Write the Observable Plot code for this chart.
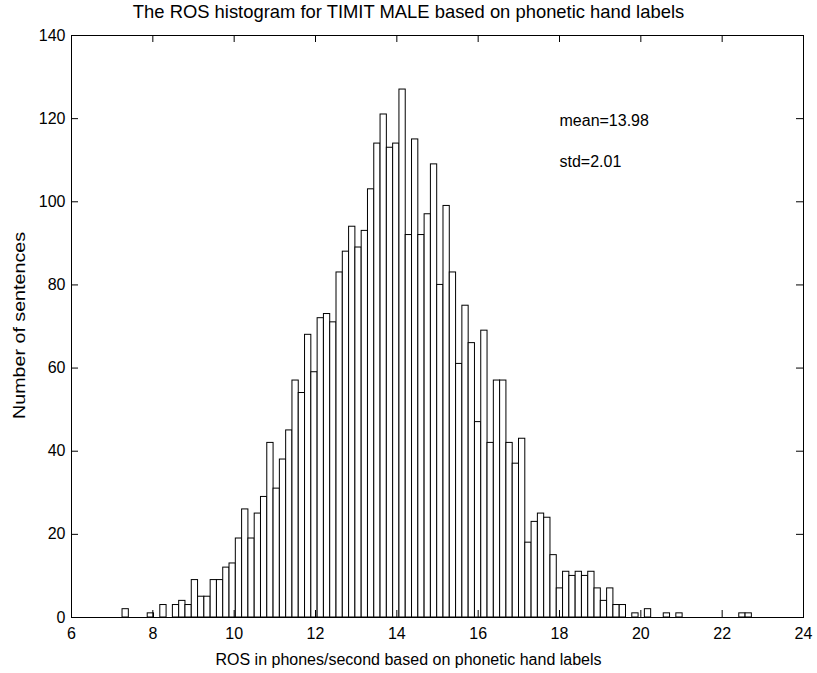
<!DOCTYPE html>
<html>
<head>
<meta charset="utf-8">
<script src="https://cdn.jsdelivr.net/npm/d3@7"></script>
<script src="https://cdn.jsdelivr.net/npm/@observablehq/plot@0.6"></script>
<style>
  html, body { margin: 0; padding: 0; background: #ffffff; }
  #chart svg { display: block; }
</style>
</head>
<body>
<div id="chart"></div>
<script>
// Histogram counts (100 bins, MATLAB hist)
const counts = [
  2, 0, 0, 0, 1, 0, 3, 0, 3, 4,
  3, 9, 5, 5, 9, 9, 12, 13, 19, 26,
  19, 25, 29, 42, 31, 38, 45, 57, 54, 68,
  59, 72, 73, 71, 83, 88, 94, 89, 93, 103,
  114, 121, 113, 114, 127, 92, 115, 92, 97, 109,
  80, 99, 83, 61, 75, 66, 47, 69, 42, 57,
  57, 42, 37, 43, 18, 23, 25, 24, 15, 7,
  11, 10, 11, 10, 11, 7, 4, 7, 3, 3,
  0, 1, 0, 2, 0, 0, 1, 0, 1, 0,
  0, 0, 0, 0, 0, 0, 0, 0, 1, 1
];
// data range covered by the bins (min and max ROS)
const rosMin = 7.255;
const rosMax = 22.73;

const xTicks = [6, 8, 10, 12, 14, 16, 18, 20, 22, 24];
const yTicks = [0, 20, 40, 60, 80, 100, 120, 140];

const titleText = "The ROS histogram for TIMIT MALE based on phonetic hand labels";
const xLabelText = "ROS in phones/second based on phonetic hand labels";
const yLabelText = "Number of sentences";

const annotations = [
  { x: 18, y: 120, text: "mean=13.98" },
  { x: 18, y: 110, text: "std=2.01" }
];

// build bins (equal-width bins between min and max, as hist does)
const nBins = counts.length;
const binW = (rosMax - rosMin) / nBins;
const bins = counts.map((c, i) => ({
  x1: rosMin + i * binW,
  x2: rosMin + (i + 1) * binW,
  base: 0,
  count: c
}));

const W = 817, H = 673;
const mL = 71, mT = 35, mR = 14, mB = 56;
const fw = W - mL - mR, fh = H - mT - mB;
const tick = 7;
const font = "'Liberation Sans', Arial, Helvetica, sans-serif";

const chart = Plot.plot({
  width: W,
  height: H,
  marginLeft: mL,
  marginTop: mT,
  marginRight: mR,
  marginBottom: mB,
  style: { fontFamily: font, fontSize: "16px", background: "#ffffff", color: "#000000", overflow: "visible" },
  x: { domain: [6, 24] },
  y: { domain: [0, 140] },
  marks: [
    Plot.rect(bins, { x1: "x1", x2: "x2", y1: "base", y2: "count", fill: "#ffffff", stroke: "#000000", strokeWidth: 1 }),
    Plot.frame({ stroke: "#000000", strokeWidth: 1 }),
    // inward ticks on all four sides
    Plot.tickX(xTicks, { x: d => d, insetTop: fh - tick, stroke: "#000000" }),
    Plot.tickX(xTicks, { x: d => d, insetBottom: fh - tick, stroke: "#000000" }),
    Plot.tickY(yTicks, { y: d => d, insetRight: fw - tick, stroke: "#000000" }),
    Plot.tickY(yTicks, { y: d => d, insetLeft: fw - tick, stroke: "#000000" }),
    Plot.axisX(xTicks, { tickSize: 0, tickPadding: 10, label: null, fontSize: 16 }),
    Plot.axisY(yTicks, { tickSize: 0, tickPadding: 6, label: null, fontSize: 16 }),
    Plot.text(annotations, { x: "x", y: "y", text: "text", textAnchor: "start", lineAnchor: "middle", dy: 2, fontSize: 16, fill: "#000000" }),
    Plot.text([titleText], { text: d => d, frameAnchor: "top", textAnchor: "middle", lineAnchor: "middle", dx: -29, dy: -23, fontSize: 18.4, fill: "#000000" }),
    Plot.text([xLabelText], { text: d => d, frameAnchor: "bottom", textAnchor: "middle", lineAnchor: "middle", dx: -29, dy: 42, fontSize: 16, fill: "#000000" }),
    Plot.text([yLabelText], { text: d => d, frameAnchor: "left", textAnchor: "middle", lineAnchor: "middle", rotate: -90, dx: -52, dy: -1, fontSize: 16, fill: "#000000" })
  ]
});

// the reference's vertical label is slightly stretched along its length
d3.select(chart).selectAll("text")
  .filter(function () { return this.textContent === yLabelText; })
  .attr("textLength", 187)
  .attr("lengthAdjust", "spacingAndGlyphs");

document.getElementById("chart").appendChild(chart);
</script>
</body>
</html>
